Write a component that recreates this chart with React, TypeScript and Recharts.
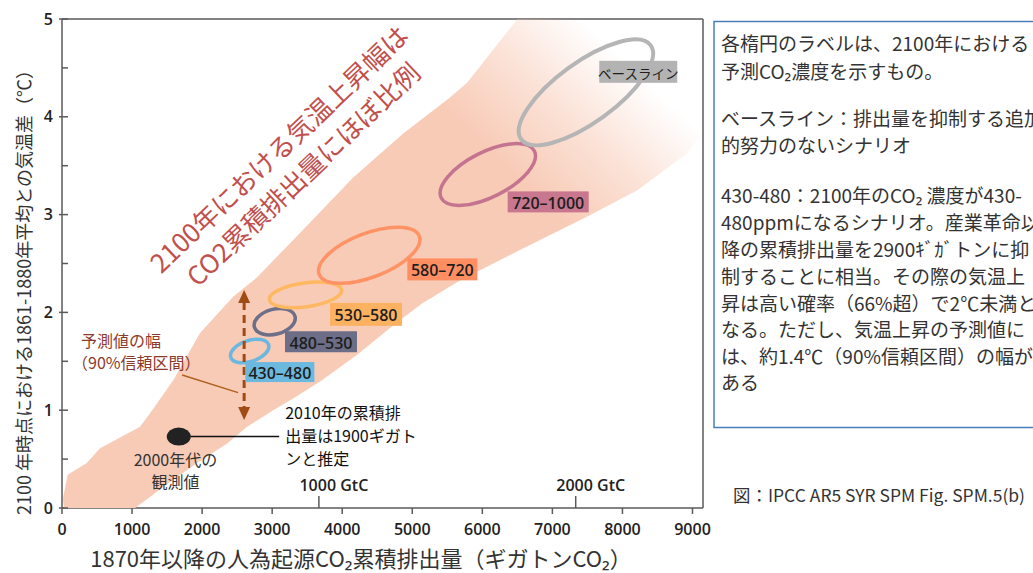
import React from 'react';
import { ScatterChart, Scatter, XAxis, YAxis, ReferenceDot } from 'recharts';

// ---------- axis ticks ----------
const X_TICKS = [0, 1000, 2000, 3000, 4000, 5000, 6000, 7000, 8000, 9000];
const Y_TICKS = [0, 1, 2, 3, 4, 5];
const Y_MINOR_TICKS = [0, 0.5, 1, 1.5, 2, 2.5, 3, 3.5, 4, 4.5, 5];
const GTC_TICKS = [3667, 7333];
const GTC_LABELS = ['1000 GtC', '2000 GtC'];

// ---------- uncertainty band (GtCO2, °C) ----------
const BAND_UPPER = [
  { x: 81, y: 0.34 }, { x: 353, y: 0.46 }, { x: 543, y: 0.61 }, { x: 1114, y: 0.83 },
  { x: 1257, y: 0.97 }, { x: 1590, y: 1.31 }, { x: 1971, y: 1.79 }, { x: 2443, y: 2.16 },
  { x: 2786, y: 2.36 }, { x: 3380, y: 2.8 }, { x: 4157, y: 3.38 }, { x: 4871, y: 3.83 },
  { x: 5543, y: 4.2 }, { x: 5786, y: 4.35 }, { x: 6500, y: 5.0 }, { x: 9150, y: 5.0 },
];
const BAND_LOWER = [
  { x: 9150, y: 3.85 }, { x: 8929, y: 3.63 }, { x: 8214, y: 3.25 }, { x: 7500, y: 2.98 },
  { x: 6543, y: 2.64 }, { x: 5686, y: 2.33 }, { x: 5140, y: 2.09 }, { x: 4700, y: 1.85 },
  { x: 4200, y: 1.56 }, { x: 3700, y: 1.3 }, { x: 3300, y: 1.12 }, { x: 3014, y: 1.0 },
  { x: 2643, y: 0.83 }, { x: 2357, y: 0.66 }, { x: 1929, y: 0.46 }, { x: 1586, y: 0.29 },
  { x: 1043, y: 0 }, { x: 643, y: -0.19 }, { x: 143, y: -0.33 }, { x: 43, y: -0.12 },
  { x: 14, y: 0.1 },
];

// ---------- scenario ellipses (major-axis end points) ----------
const SCENARIOS = ['430–480', '480–530', '530–580', '580–720', '720–1000', 'ベースライン'];
const ELLIPSE_FROM = [
  { x: 2409, y: 1.54 }, { x: 2746, y: 1.85 }, { x: 2960, y: 2.13 },
  { x: 3671, y: 2.39 }, { x: 5414, y: 3.17 }, { x: 6554, y: 3.77 },
];
const ELLIPSE_TO = [
  { x: 2949, y: 1.67 }, { x: 3326, y: 1.96 }, { x: 3991, y: 2.23 },
  { x: 5100, y: 2.78 }, { x: 6743, y: 3.65 }, { x: 8403, y: 4.73 },
];
const LABEL_AT = [
  { x: 3110, y: 1.39 }, { x: 3697, y: 1.7 }, { x: 4340, y: 1.98 },
  { x: 5429, y: 2.44 }, { x: 6940, y: 3.13 }, { x: 8226, y: 4.46 },
];

// ---------- other marks ----------
const OBSERVED = [{ x: 1667, y: 0.73 }];
const OBSERVED_LEADER = [{ x: 1667, y: 0.73 }, { x: 3100, y: 0.73 }];
const RANGE_ARROW = [{ x: 2600, y: 0.9 }, { x: 2600, y: 2.23 }];
const RANGE_LEADER = [{ x: 1714, y: 1.36 }, { x: 2514, y: 1.18 }];

// ---------- texts ----------
const Y_TITLE = '2100 年時点における1861-1880年平均との気温差（℃）';
const X_TITLE = '1870年以降の人為起源CO₂累積排出量（ギガトンCO₂）';
const BOX_LINES = [
  '各楕円のラベルは、2100年における',
  '予測CO₂濃度を示すもの。',
  'ベースライン：排出量を抑制する追加',
  '的努力のないシナリオ',
  '430-480：2100年のCO₂ 濃度が430-',
  '480ppmになるシナリオ。産業革命以',
  '降の累積排出量を2900ｷﾞｶﾞトンに抑',
  '制することに相当。その際の気温上',
  '昇は高い確率（66%超）で2℃未満と',
  'なる。ただし、気温上昇の予測値に',
  'は、約1.4℃（90%信頼区間）の幅が',
  'ある',
];
const SOURCE = '図：IPCC AR5 SYR SPM Fig. SPM.5(b)';

// ---------- styles ----------
const FONT_JP = '"Noto Sans CJK JP", "Noto Sans", sans-serif';
const FONT_NUM = '"Open Sans", "Noto Sans", sans-serif';
const AXIS_COLOR = '#5a5a5a';
const BAND_COLOR = '#f8cbb7';
const BOX_LINE_Y = [42, 70, 117, 144, 194, 221, 248, 275, 302, 328, 355, 381];
const ELLIPSE_STYLE = [
  { color: '#6cb7e0', minor: 10.5, width: 3.5 },
  { color: '#6d6f88', minor: 12.5, width: 3.5 },
  { color: '#ffb862', minor: 12, width: 3.5 },
  { color: '#ff9366', minor: 22, width: 3.5 },
  { color: '#c4748f', minor: 22.5, width: 3.5 },
  { color: '#b5b5b5', minor: 30, width: 4 },
];
const LABEL_STYLE = [
  { w: 69, h: 20, fill: '#6cb9e0', font: FONT_NUM, size: 16 },
  { w: 72, h: 21, fill: '#6b6e86', font: FONT_NUM, size: 16 },
  { w: 72, h: 23, fill: '#fdb262', font: FONT_NUM, size: 16 },
  { w: 70, h: 22, fill: '#ff8f62', font: FONT_NUM, size: 16 },
  { w: 81, h: 21, fill: '#c8778f', font: FONT_NUM, size: 16 },
  { w: 78, h: 22, fill: '#b3b3b3', font: FONT_JP, size: 13.5 },
];

const NoDot = () => <g />;

const bandLine = (props: any) => {
  const pts = (props.points || []) as { x: number; y: number }[];
  return (
    <g>
      <defs>
        <linearGradient id="bandFade" gradientUnits="userSpaceOnUse" x1="505" y1="165" x2="615" y2="50">
          <stop offset="0" stopColor={BAND_COLOR} stopOpacity={1} />
          <stop offset="0.5" stopColor={BAND_COLOR} stopOpacity={0.55} />
          <stop offset="1" stopColor={BAND_COLOR} stopOpacity={0} />
        </linearGradient>
      </defs>
      <polygon points={pts.map((p) => `${p.x},${p.y}`).join(' ')} fill="url(#bandFade)" stroke="none" />
    </g>
  );
};

const makeEllipseLine = (i: number) => (props: any) => {
  const pts = (props.points || []) as { x: number; y: number }[];
  if (pts.length < 2) return <g />;
  const [p0, p1] = pts;
  const cx = (p0.x + p1.x) / 2;
  const cy = (p0.y + p1.y) / 2;
  const a = Math.hypot(p1.x - p0.x, p1.y - p0.y) / 2;
  const ang = (Math.atan2(p1.y - p0.y, p1.x - p0.x) * 180) / Math.PI;
  const s = ELLIPSE_STYLE[i];
  return (
    <ellipse
      cx={cx}
      cy={cy}
      rx={a}
      ry={s.minor}
      transform={`rotate(${ang} ${cx} ${cy})`}
      fill="none"
      stroke={s.color}
      strokeWidth={s.width}
    />
  );
};

const LabelBox = (props: any) => {
  const { cx, cy, payload } = props;
  const i = payload.i as number;
  const s = LABEL_STYLE[i];
  return (
    <g>
      <rect x={cx - s.w / 2} y={cy - s.h / 2} width={s.w} height={s.h} fill={s.fill} />
      <text
        x={cx}
        y={cy + 1}
        textAnchor="middle"
        dominantBaseline="central"
        fontFamily={s.font}
        fontSize={s.size}
        fontWeight={i === 5 ? 400 : 600}
        fill="#1e1e1e"
      >
        {SCENARIOS[i]}
      </text>
    </g>
  );
};

const ObservedDot = (props: any) => <ellipse cx={props.cx} cy={props.cy} rx={12} ry={9} fill="#222" />;

const simpleLine = (color: string, width: number) => (props: any) => {
  const pts = (props.points || []) as { x: number; y: number }[];
  if (pts.length < 2) return <g />;
  return <line x1={pts[0].x} y1={pts[0].y} x2={pts[1].x} y2={pts[1].y} stroke={color} strokeWidth={width} />;
};

const arrowLine = (props: any) => {
  const pts = (props.points || []) as { x: number; y: number }[];
  if (pts.length < 2) return <g />;
  const x = pts[0].x;
  const yb = Math.max(pts[0].y, pts[1].y);
  const yt = Math.min(pts[0].y, pts[1].y);
  const c = '#a04a14';
  return (
    <g>
      <line x1={x} y1={yt + 12} x2={x} y2={yb - 12} stroke={c} strokeWidth={3} strokeDasharray="8 5" />
      <polygon points={`${x},${yt} ${x - 6},${yt + 13} ${x + 6},${yt + 13}`} fill={c} />
      <polygon points={`${x},${yb} ${x - 6},${yb - 13} ${x + 6},${yb - 13}`} fill={c} />
    </g>
  );
};

// GtC secondary scale: tick mark pointing up from the x axis, label above it
const gtcMark = (label: string) => (props: any) => {
  const { cx, cy } = props;
  return (
    <g>
      <line x1={cx} y1={cy} x2={cx} y2={cy - 12} stroke={AXIS_COLOR} strokeWidth={1.5} />
      <text x={cx + 15} y={cy - 23} textAnchor="middle" dominantBaseline="central" fontFamily={FONT_NUM} fontWeight={600} fontSize={16} fill="#222">
        {label}
      </text>
    </g>
  );
};

// inner minor tick on the left frame
const leftMinorTick = (props: any) => {
  const { cx, cy } = props;
  return <line x1={cx} y1={cy} x2={cx + 6} y2={cy} stroke={AXIS_COLOR} strokeWidth={1.5} />;
};

const textNote = (lines: string[], opts: { size: number; color: string; anchor: 'start' | 'middle'; lh: number; rotate?: number }) =>
  (props: any) => {
    const { cx, cy } = props;
    const n = lines.length;
    return (
      <g transform={opts.rotate ? `rotate(${opts.rotate} ${cx} ${cy})` : undefined}>
        {lines.map((l, k) => (
          <text
            key={k}
            x={cx}
            y={cy + (k - (n - 1) / 2) * opts.lh}
            textAnchor={opts.anchor}
            dominantBaseline="central"
            fontFamily={FONT_JP}
            fontSize={opts.size}
            fill={opts.color}
          >
            {l}
          </text>
        ))}
      </g>
    );
  };

const tickStyle = { fill: '#222', fontSize: 16, fontFamily: FONT_NUM, fontWeight: 600 };

export default function App() {
  const bandData = [...BAND_UPPER, ...BAND_LOWER];
  const labelData = LABEL_AT.map((p, i) => ({ ...p, i }));
  return (
    <div style={{ position: 'absolute', left: 0, top: 0, width: 1033, height: 573, background: '#fff', fontFamily: FONT_JP }}>
      <ScatterChart width={1033} height={573} margin={{ top: 19, right: 330, bottom: 0, left: 0 }}>
        <XAxis
          type="number"
          dataKey="x"
          domain={[0, 9150]}
          ticks={X_TICKS}
          allowDataOverflow
          height={65}
          tickSize={6}
          tickMargin={10}
          stroke={AXIS_COLOR}
          strokeWidth={1.5}
          tick={tickStyle}
          interval={0}
        />
        <XAxis
          xAxisId="top"
          orientation="top"
          type="number"
          domain={[0, 9150]}
          allowDataOverflow
          mirror
          height={1}
          tick={false}
          tickLine={false}
          stroke={AXIS_COLOR}
          strokeWidth={1.5}
        />
        <YAxis
          type="number"
          dataKey="y"
          domain={[0, 5]}
          ticks={Y_TICKS}
          allowDataOverflow
          width={62}
          tickSize={3}
          tickMargin={6}
          stroke={AXIS_COLOR}
          strokeWidth={1.5}
          tick={tickStyle}
          interval={0}
        />
        <YAxis
          yAxisId="right"
          orientation="right"
          type="number"
          domain={[0, 5]}
          ticks={Y_MINOR_TICKS}
          allowDataOverflow
          mirror
          width={1}
          tick={false}
          tickSize={6}
          stroke={AXIS_COLOR}
          strokeWidth={1.5}
          interval={0}
        />

        <Scatter data={bandData} shape={NoDot} line={bandLine} lineType="joint" isAnimationActive={false} />

        {SCENARIOS.map((name, i) => (
          <Scatter
            key={name}
            data={[ELLIPSE_FROM[i], ELLIPSE_TO[i]]}
            shape={NoDot}
            line={makeEllipseLine(i)}
            lineType="joint"
            isAnimationActive={false}
          />
        ))}

        <Scatter data={RANGE_LEADER} shape={NoDot} line={simpleLine('#b0601e', 1.5)} lineType="joint" isAnimationActive={false} />
        <Scatter data={RANGE_ARROW} shape={NoDot} line={arrowLine} lineType="joint" isAnimationActive={false} />
        <Scatter data={OBSERVED_LEADER} shape={NoDot} line={simpleLine('#111', 1.5)} lineType="joint" isAnimationActive={false} />
        <Scatter data={OBSERVED} shape={ObservedDot} isAnimationActive={false} />
        <Scatter data={labelData} shape={LabelBox} isAnimationActive={false} />

        {Y_MINOR_TICKS.map((v) => (
          <ReferenceDot key={`m${v}`} x={0} y={v} r={0} ifOverflow="visible" shape={leftMinorTick} />
        ))}
        {GTC_TICKS.map((v, k) => (
          <ReferenceDot key={`g${v}`} x={v} y={0} r={0} ifOverflow="visible" shape={gtcMark(GTC_LABELS[k])} />
        ))}

        <ReferenceDot
          x={3254}
          y={3.553}
          r={0}
          shape={textNote(['2100年における気温上昇幅は', 'CO2累積排出量にほぼ比例'], {
            size: 26,
            color: '#c0504d',
            anchor: 'middle',
            lh: 35,
            rotate: -43.5,
          })}
        />
        <ReferenceDot
          x={271}
          y={1.718}
          r={0}
          shape={textNote(['予測値の幅'], { size: 16, color: '#8c3a2c', anchor: 'start', lh: 22 })}
        />
        <ReferenceDot
          x={143}
          y={1.493}
          r={0}
          shape={textNote(['（90%信頼区間）'], { size: 16, color: '#8c3a2c', anchor: 'start', lh: 22 })}
        />
        <ReferenceDot
          x={1620}
          y={0.384}
          r={0}
          shape={textNote(['2000年代の', '観測値'], { size: 16, color: '#333', anchor: 'middle', lh: 22 })}
        />
        <ReferenceDot
          x={3186}
          y={0.75}
          r={0}
          shape={textNote(['2010年の累積排', '出量は1900ギガト', 'ンと推定'], { size: 16, color: '#111', anchor: 'start', lh: 23 })}
        />
      </ScatterChart>

      <svg width={1033} height={573} style={{ position: 'absolute', left: 0, top: 0, pointerEvents: 'none' }}>
        <text
          transform="translate(23 288) rotate(-90)"
          textAnchor="middle"
          dominantBaseline="central"
          fontFamily={FONT_JP}
          fontSize={18}
          fill="#333"
        >
          {Y_TITLE}
        </text>
        <text x={361} y={557} textAnchor="middle" dominantBaseline="central" fontFamily={FONT_JP} fontSize={22} fill="#333">
          {X_TITLE}
        </text>

        <rect x={714} y={21.5} width={340} height={406} fill="#fff" stroke="#4a7ebb" strokeWidth={1.5} />
        {BOX_LINES.map((l, k) => (
          <text key={k} x={721} y={BOX_LINE_Y[k]} dominantBaseline="central" fontFamily={FONT_JP} fontSize={19} fill="#333">
            {l}
          </text>
        ))}
        <text
          x={733}
          y={494}
          dominantBaseline="central"
          fontFamily={FONT_JP}
          fontSize={17}
          fill="#333"
          textLength={292}
          lengthAdjust="spacingAndGlyphs"
        >
          {SOURCE}
        </text>
      </svg>
    </div>
  );
}
